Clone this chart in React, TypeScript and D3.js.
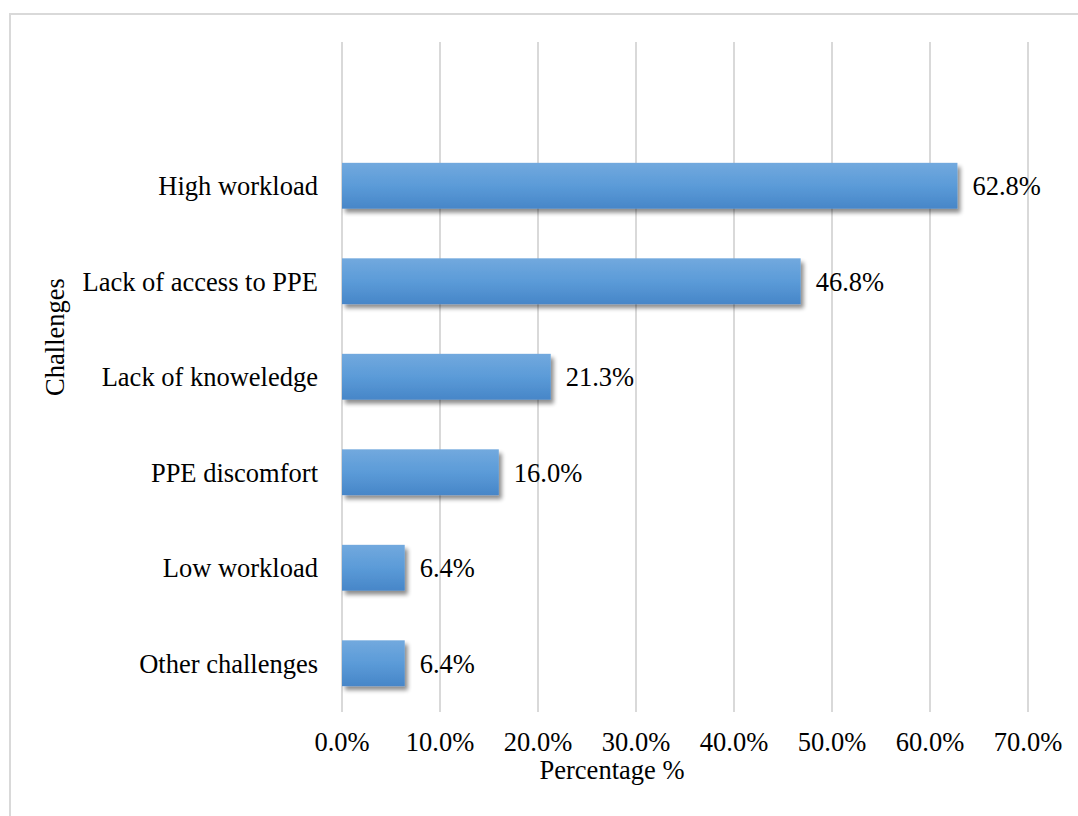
import React from "react";
import * as d3 from "d3";

const categories = ["High workload", "Lack of access to PPE", "Lack of knoweledge", "PPE discomfort", "Low workload", "Other challenges"];
const values = [62.8, 46.8, 21.3, 16.0, 6.4, 6.4];
const xTicks = [0, 10, 20, 30, 40, 50, 60, 70];

export default function App() {
  const W = 1078, H = 816;
  const x = d3.scaleLinear().domain([0, 70]).range([342, 1028]);
  const y = d3.scaleBand<string>().domain(categories).range([138, 711]).paddingInner(0.52).paddingOuter(0.26);
  const font = "'Liberation Serif', 'Times New Roman', serif";
  const fs = 26.5;
  return (
    <div style={{ position: "absolute", left: 0, top: 0 }}>
      <svg width={W} height={H} style={{ display: "block" }}>
        <defs>
          <linearGradient id="barGrad" x1="0" y1="0" x2="0" y2="1">
            <stop offset="0%" stopColor="#72a9de" />
            <stop offset="50%" stopColor="#5b9bd8" />
            <stop offset="100%" stopColor="#4786c8" />
          </linearGradient>
          <filter id="shadow" x="-10%" y="-20%" width="130%" height="160%">
            <feGaussianBlur in="SourceAlpha" stdDeviation="2" />
            <feOffset dx="3" dy="4" result="ob" />
            <feComponentTransfer><feFuncA type="linear" slope="0.45" /></feComponentTransfer>
            <feMerge><feMergeNode /><feMergeNode in="SourceGraphic" /></feMerge>
          </filter>
        </defs>
        <rect x={0} y={0} width={W} height={H} fill="#fff" />
        <rect x={10} y={14} width={W + 20} height={H + 20} fill="none" stroke="#d9d9d9" strokeWidth={2} />
        {xTicks.map(t => (
          <line key={t} x1={x(t)} x2={x(t)} y1={42} y2={712} stroke="#d9d9d9" strokeWidth={2} />
        ))}
        {categories.map((c, i) => (
          <rect key={c} x={x(0)} y={y(c)!} width={x(values[i]) - x(0)} height={y.bandwidth()} fill="url(#barGrad)" filter="url(#shadow)" />
        ))}
        {categories.map((c, i) => (
          <text key={c} x={318} y={y(c)! + y.bandwidth() / 2} dy="0.35em" textAnchor="end" fontFamily={font} fontSize={fs} fill="#000">{c}</text>
        ))}
        {categories.map((c, i) => (
          <text key={c} x={x(values[i]) + 15} y={y(c)! + y.bandwidth() / 2} dy="0.35em" textAnchor="start" fontFamily={font} fontSize={fs} fill="#000">{values[i].toFixed(1)}%</text>
        ))}
        {xTicks.map(t => (
          <text key={t} x={x(t)} y={751} textAnchor="middle" fontFamily={font} fontSize={fs} fill="#000">{t.toFixed(1)}%</text>
        ))}
        <text x={612} y={779} textAnchor="middle" fontFamily={font} fontSize={fs} fill="#000">Percentage %</text>
        <text transform={`translate(64,337) rotate(-90)`} textAnchor="middle" fontFamily={font} fontSize={fs} fill="#000">Challenges</text>
      </svg>
    </div>
  );
}
